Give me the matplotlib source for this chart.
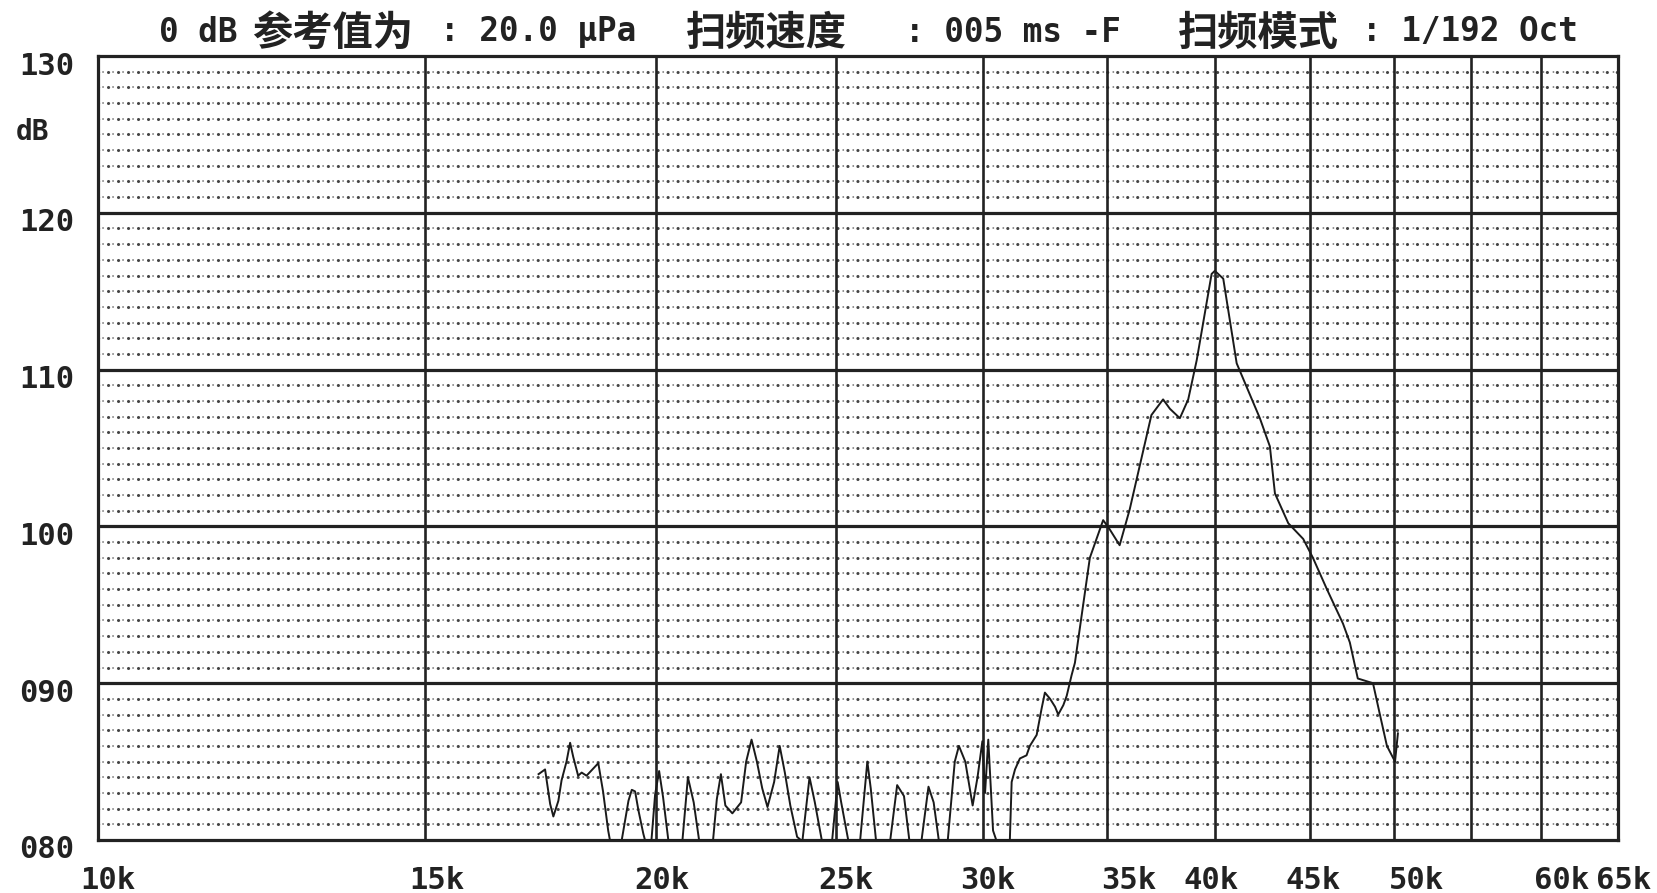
import matplotlib.pyplot as plt
from matplotlib.ticker import NullLocator
from matplotlib.transforms import ScaledTranslation

# sweep trace (kHz, dB)
freq_khz = [
    17.28, 17.42, 17.53, 17.60, 17.71, 17.78, 17.89, 17.97, 18.04, 18.15,
    18.23, 18.34, 18.61, 18.72, 18.84, 18.88,
    19.16, 19.32, 19.40, 19.48, 19.56, 19.68, 19.72,
    19.88, 19.97, 20.07, 20.17, 20.30,
    20.66, 20.80, 20.95, 21.09,
    21.46, 21.56, 21.67, 21.79, 21.98, 22.22, 22.36, 22.51, 22.66, 22.81,
    22.96, 23.15, 23.31, 23.46, 23.62, 23.82, 23.93,
    23.98, 24.19, 24.35, 24.56,
    24.88, 25.05, 25.16, 25.38,
    25.76, 25.99, 26.10, 26.27,
    26.74, 26.97, 27.20, 27.38,
    27.80, 28.04, 28.22, 28.40,
    28.72, 28.97, 29.12, 29.35, 29.62, 29.80, 29.98, 30.08, 30.20, 30.38, 30.50,
    31.02, 31.09, 31.22, 31.41, 31.67, 31.80, 32.07, 32.27, 32.40, 32.61,
    32.81, 32.94, 33.15, 33.29, 33.49, 33.63,
    34.26, 34.83, 35.12, 35.55, 36.00, 36.98, 37.52, 37.84, 38.31, 38.71,
    39.12, 39.85, 40.01, 40.43, 41.11, 42.31, 42.84, 43.11, 43.83, 44.65,
    45.19, 45.98, 46.91, 47.31, 47.78, 48.69, 49.11, 49.54, 50.04, 50.22,
]
level_db = [
    84.2, 84.5, 82.3, 81.5, 82.5, 83.8, 85.0, 86.2, 85.3, 84.1,
    84.3, 84.1, 84.9, 83.1, 80.6, 80.0,
    80.0, 82.5, 83.2, 83.1, 81.9, 80.4, 80.0,
    80.0, 82.9, 84.4, 82.7, 80.0,
    80.0, 84.0, 82.4, 80.0,
    80.0, 82.6, 84.2, 82.2, 81.7, 82.4, 85.0, 86.4, 85.0, 83.3,
    82.1, 83.7, 86.0, 84.3, 82.2, 80.2, 80.0,
    80.0, 84.0, 82.4, 80.0,
    80.0, 83.7, 82.4, 80.0,
    80.0, 85.0, 83.3, 80.0,
    80.0, 83.5, 82.8, 80.0,
    80.0, 83.4, 82.4, 80.0,
    80.0, 85.0, 86.0, 85.0, 82.2, 84.0, 86.3, 83.0, 86.4, 80.6, 80.0,
    80.0, 83.7, 84.5, 85.2, 85.4, 86.0, 86.7, 88.4, 89.4, 89.0,
    88.5, 88.0, 88.6, 89.2, 90.5, 91.3,
    98.0, 100.4, 99.8, 98.8, 101.1, 107.1, 108.1, 107.5, 106.9, 108.1,
    110.6, 116.1, 116.3, 115.8, 110.4, 106.9, 105.1, 102.1, 100.2, 99.2,
    98.0, 96.0, 93.8, 92.6, 90.3, 90.0, 88.0, 86.0, 85.0, 86.8,
]

x_ticks_khz = [10, 15, 20, 25, 30, 35, 40, 45, 50, 60, 65]
x_tick_labels = ['10k', '15k', '20k', '25k', '30k', '35k', '40k', '45k', '50k', '60k', '65k']
x_grid_khz = [15, 20, 25, 30, 35, 40, 45, 50, 55, 60]
y_ticks = [80, 90, 100, 110, 120, 130]
y_tick_labels = ['080', '090', '100', '110', '120', '130']

# the printer puts labels on a character grid, so they sit a bit off the lines (px)
x_label_nudge = [10, 12, 5, 10, 5, 22, -4, 3, 22, 20, 18]

# header line: (x pixel, text, is_cjk)
header = [
    (159, '0 dB', False), (252, '参考值为', True), (440, ': 20.0 μPa', False),
    (686, '扫频速度', True), (905, ': 005 ms -F', False),
    (1178, '扫频模式', True), (1362, ': 1/192 Oct', False),
]

W, H = 1658, 893
ink = '#222222'
plt.rcParams['font.family'] = ['DejaVu Sans Mono', 'Noto Sans CJK SC']

fig = plt.figure(figsize=(W / 100, H / 100), dpi=100)
ax = fig.add_axes([98 / W, 1 - 840 / H, 1520 / W, 784 / H])

ax.set_xscale('log')
ax.set_xlim(10, 66)
ax.set_ylim(80, 130)

# dotted 1 dB rules: big dots every ~10 px with a small dot in between
for db in range(81, 130):
    if db % 10:
        ax.axhline(db, color='#444444', lw=2.2, ls=(0, (0.05, 3.22)),
                   dash_capstyle='round', zorder=1)
        ax.axhline(db, color='#777777', lw=1.3, ls=(2.77, (0.05, 5.49)),
                   dash_capstyle='round', zorder=1)
for db in y_ticks[1:-1]:
    ax.axhline(db, color=ink, lw=2.3, zorder=2)
for f in x_grid_khz:
    ax.axvline(f, color=ink, lw=1.9, zorder=2)

ax.plot(freq_khz, level_db, color='#1a1a1a', lw=1.4, zorder=3)

ax.xaxis.set_minor_locator(NullLocator())
ax.set_xticks(x_ticks_khz, x_tick_labels)
ax.set_yticks(y_ticks, y_tick_labels)
ax.tick_params(length=0, labelsize=22, labelcolor=ink)
ax.tick_params(axis='x', pad=19)
ax.tick_params(axis='y', pad=17)
for lab in ax.get_xticklabels() + ax.get_yticklabels():
    lab.set_fontweight('bold')
for lab, dx in zip(ax.get_xticklabels(), x_label_nudge):
    lab.set_transform(lab.get_transform() + ScaledTranslation(dx / 100, 0, fig.dpi_scale_trans))
for lab in ax.get_yticklabels():
    lab.set_transform(lab.get_transform() + ScaledTranslation(0, -7 / 100, fig.dpi_scale_trans))

for s in ax.spines.values():
    s.set_linewidth(2.3)
    s.set_color(ink)

fig.text(16 / W, 1 - 132 / H, 'dB', fontsize=20, color=ink, fontweight='bold',
         ha='left', va='center')

for x, txt, cjk in header:
    if cjk:
        fig.text(x / W, 1 - 33 / H, txt, fontsize=29, color=ink, fontweight='bold',
                 family=['Noto Sans CJK SC'], ha='left', va='center')
    else:
        fig.text(x / W, 1 - 32 / H, txt, fontsize=23.5, color=ink, fontweight='bold',
                 ha='left', va='center')

fig.savefig('out.png', dpi=100)
